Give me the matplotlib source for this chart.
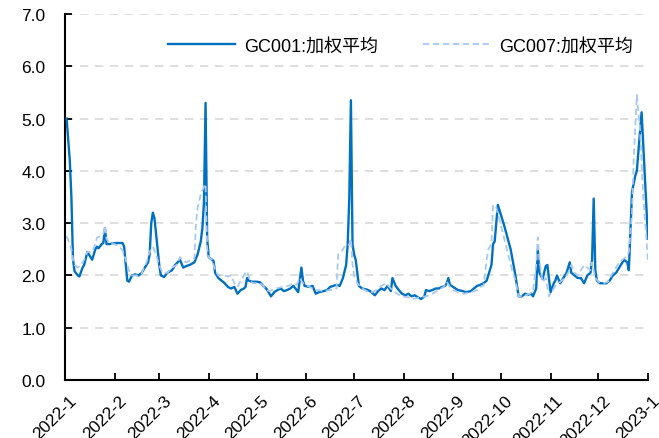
import matplotlib
matplotlib.use("Agg")
import matplotlib.pyplot as plt
import matplotlib.transforms as mtransforms
import pandas as pd

# days counted from 2022-01-01
gc001_day = [1, 2, 3, 4, 5, 6, 8, 9, 11, 12, 14, 16, 17, 19, 20, 21, 23, 24, 25, 26,
             28, 32, 36, 37, 39, 40, 42, 44, 46, 48, 50, 52, 53, 54, 55, 56, 57, 59, 60, 62,
             64, 67, 69, 72, 74, 76, 78, 81, 83, 85, 86, 87, 88, 89, 90, 92, 93, 94, 96, 98,
             100, 102, 104, 106, 108, 110, 112, 113, 114, 115, 117, 120, 122, 124, 126, 128, 129, 131, 133, 135,
             137, 139, 141, 143, 145, 146, 148, 149, 150, 153, 155, 157, 159, 162, 164, 166, 168, 170, 172, 174,
             176, 177, 178, 179, 180, 181, 182, 184, 186, 189, 191, 193, 194, 196, 198, 200, 202, 204, 205, 207,
             209, 211, 213, 215, 217, 219, 221, 223, 225, 226, 228, 230, 232, 234, 236, 238, 239, 240, 241, 243,
             246, 249, 251, 254, 256, 258, 260, 262, 264, 266, 267, 268, 269, 271, 275, 279, 282, 284, 286, 288,
             290, 292, 293, 295, 296, 297, 299, 301, 302, 304, 306, 307, 308, 310, 312, 314, 316, 317, 319, 321,
             323, 325, 327, 329, 330, 331, 332, 333, 335, 337, 339, 341, 343, 345, 347, 348, 350, 352, 353, 355,
             357, 358, 361, 365]
gc001_val = [5.0, 4.6, 4.2, 3.5, 2.3, 2.08, 2.0, 1.98, 2.15, 2.2, 2.45, 2.35, 2.3, 2.5, 2.55, 2.52, 2.6, 2.62, 2.9, 2.6,
             2.6, 2.62, 2.62, 2.55, 1.9, 1.88, 2.0, 2.02, 2.0, 2.05, 2.15, 2.25, 2.4, 3.0, 3.2, 3.1, 2.8, 2.2, 2.0, 1.97,
             2.05, 2.1, 2.2, 2.3, 2.15, 2.18, 2.2, 2.25, 2.4, 2.65, 2.9, 3.4, 5.3, 2.7, 2.35, 2.3, 2.28, 2.05, 1.95, 1.9,
             1.85, 1.78, 1.75, 1.78, 1.65, 1.72, 1.75, 1.78, 1.95, 1.9, 1.88, 1.88, 1.87, 1.8, 1.75, 1.65, 1.6, 1.68, 1.72, 1.75,
             1.7, 1.72, 1.75, 1.8, 1.72, 1.68, 2.15, 1.9, 1.8, 1.78, 1.8, 1.65, 1.68, 1.7, 1.72, 1.78, 1.8, 1.82, 1.8, 1.95,
             2.2, 2.6, 3.5, 5.35, 2.6, 2.4, 2.3, 1.8, 1.75, 1.73, 1.7, 1.65, 1.62, 1.7, 1.75, 1.72, 1.8, 1.7, 1.95, 1.8,
             1.72, 1.65, 1.62, 1.65, 1.6, 1.62, 1.58, 1.55, 1.6, 1.72, 1.7, 1.72, 1.75, 1.75, 1.78, 1.8, 1.85, 1.95, 1.82, 1.78,
             1.72, 1.7, 1.68, 1.7, 1.75, 1.8, 1.82, 1.85, 1.9, 2.1, 2.2, 2.6, 2.65, 3.35, 2.95, 2.5, 2.0, 1.6, 1.6, 1.65,
             1.63, 1.65, 1.6, 1.75, 2.5, 2.05, 1.93, 2.18, 2.2, 1.68, 1.85, 1.9, 2.0, 1.85, 1.95, 2.05, 2.25, 2.05, 2.0, 1.95,
             1.95, 1.85, 2.0, 2.05, 2.3, 3.47, 2.1, 1.9, 1.85, 1.85, 1.85, 1.9, 2.0, 2.05, 2.15, 2.2, 2.3, 2.25, 2.1, 3.6,
             3.9, 4.0, 5.12, 2.7]

gc007_day = [1, 3, 4, 5, 6, 8, 10, 12, 14, 17, 19, 20, 22, 24, 25, 26, 28, 31, 34, 36,
             38, 40, 42, 45, 48, 51, 53, 55, 57, 59, 61, 64, 67, 70, 72, 74, 76, 79, 81, 82,
             83, 85, 87, 88, 89, 90, 92, 94, 96, 100, 102, 104, 106, 108, 110, 112, 113, 114, 116, 118,
             122, 124, 126, 128, 132, 136, 140, 143, 145, 147, 149, 152, 155, 158, 162, 166, 170, 171, 173, 175,
             177, 178, 179, 180, 181, 183, 186, 189, 192, 195, 198, 201, 203, 205, 208, 211, 215, 218, 222, 226,
             230, 234, 237, 239, 241, 243, 246, 250, 254, 258, 261, 262, 264, 265, 267, 268, 270, 275, 280, 282,
             284, 288, 291, 293, 295, 296, 297, 299, 301, 303, 305, 307, 309, 311, 313, 315, 317, 319, 321, 323,
             325, 327, 329, 330, 332, 334, 337, 340, 342, 345, 347, 349, 351, 353, 355, 356, 358, 360, 362, 364,
             365]
gc007_val = [2.75, 2.6, 2.5, 2.3, 2.2, 2.15, 2.2, 2.3, 2.45, 2.45, 2.6, 2.72, 2.75, 2.8, 2.95, 2.7, 2.6, 2.6, 2.55, 2.48,
             2.3, 2.1, 2.0, 2.0, 2.05, 2.25, 2.45, 2.55, 2.4, 2.2, 2.05, 2.05, 2.15, 2.2, 2.35, 2.28, 2.25, 2.3, 2.32, 3.0,
             3.3, 3.55, 3.7, 3.75, 2.5, 2.35, 2.3, 2.1, 2.0, 2.0, 1.98, 2.0, 1.85, 1.78, 1.9, 2.0, 2.05, 2.08, 1.88, 1.85,
             1.85, 1.8, 1.72, 1.7, 1.75, 1.78, 1.8, 1.85, 1.82, 1.95, 1.85, 1.8, 1.75, 1.72, 1.7, 1.72, 1.75, 2.4, 2.45, 2.55,
             2.55, 2.6, 2.7, 2.2, 2.0, 1.85, 1.75, 1.7, 1.68, 1.72, 1.8, 1.85, 1.78, 1.72, 1.65, 1.6, 1.58, 1.55, 1.58, 1.6,
             1.65, 1.72, 1.78, 1.88, 1.78, 1.72, 1.68, 1.65, 1.68, 1.72, 1.8, 1.8, 2.3, 2.5, 2.6, 3.35, 3.3, 2.7, 2.1, 1.9,
             1.6, 1.62, 1.65, 1.7, 2.2, 2.73, 2.3, 1.87, 1.95, 1.6, 1.7, 1.8, 1.85, 1.9, 1.95, 2.05, 2.2, 2.05, 2.0, 2.1,
             2.2, 2.15, 2.1, 2.25, 1.95, 1.88, 1.85, 1.88, 2.0, 2.15, 2.25, 2.3, 2.35, 2.45, 3.2, 4.2, 5.45, 4.8, 3.5, 2.7,
             2.25]

LABEL_001 = "GC001:加权平均"
LABEL_007 = "GC007:加权平均"
BLUE, LIGHT = "#0070C0", "#A9C8F2"

plt.rcParams["font.family"] = ["Liberation Sans", "Noto Sans CJK SC", "DejaVu Sans"]

start = pd.Timestamp("2022-01-01")
d001 = start + pd.to_timedelta(gc001_day, unit="D")
d007 = start + pd.to_timedelta(gc007_day, unit="D")

fig = plt.figure(figsize=(6.59, 4.39), dpi=100)
ax = fig.add_axes([65 / 659, 1 - 381 / 439, 583 / 659, 366 / 439])

ax.plot(d001, gc001_val, color=BLUE, lw=1.7, label=LABEL_001, zorder=3)
ax.plot(d007, gc007_val, color=LIGHT, lw=1.3, ls=(0, (3.5, 2)), label=LABEL_007, zorder=4)

ax.set_ylim(0, 7)
ax.set_yticks(range(8))
ax.set_yticklabels([f"{i:.1f}" for i in range(8)])
ax.set_xlim(start, pd.Timestamp("2023-01-01"))
months = pd.date_range("2022-01-01", "2023-01-01", freq="MS")
ax.set_xticks(months)
ax.set_xticklabels([f"{m.year}-{m.month}" for m in months], rotation=45, ha="right",
                   va="top", rotation_mode="anchor")

ax.grid(axis="y", color="#D9D9D9", ls=(0, (5, 4)), lw=1.2)
ax.set_axisbelow(True)
for s in ("top", "right"):
    ax.spines[s].set_visible(False)
for s in ("left", "bottom"):
    ax.spines[s].set_linewidth(1.5)
ax.tick_params(direction="in", length=5, width=1.3, labelsize=12.5)
ax.tick_params(axis="y", pad=14)
ax.tick_params(axis="x", pad=9)
shift = mtransforms.ScaledTranslation(4 / 100, 0, fig.dpi_scale_trans)
for lab in ax.get_xticklabels():
    lab.set_transform(lab.get_transform() + shift)

ax.legend(loc="upper center", bbox_to_anchor=(0.575, 0.98), ncol=2, frameon=False,
          fontsize=13, handlelength=3.7, columnspacing=2.5, handletextpad=0.5)

fig.savefig("out.png", dpi=100)
